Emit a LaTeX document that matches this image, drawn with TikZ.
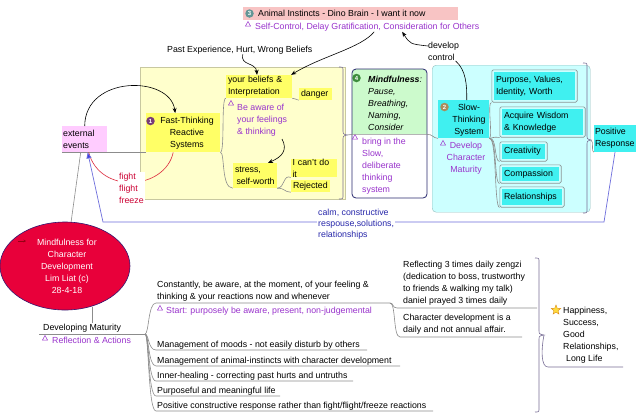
\documentclass[tikz,border=0pt]{standalone}
\usepackage{fontspec}
\setmainfont{Liberation Sans}
\usetikzlibrary{arrows.meta,shapes.geometric,fit}
\newcommand{\fs}{\fontsize{8.8}{12}\selectfont}
\definecolor{pinkA}{RGB}{248,196,196}
\definecolor{extpink}{RGB}{255,204,255}
\definecolor{ybg}{RGB}{255,255,204}
\definecolor{ybord}{RGB}{200,200,160}
\definecolor{ybright}{RGB}{255,255,102}
\definecolor{cyanbg}{RGB}{204,255,255}
\definecolor{cyanbord}{RGB}{150,190,190}
\definecolor{cyanbright}{RGB}{64,240,240}
\definecolor{mindgreen}{RGB}{204,250,204}
\definecolor{mindnavy}{RGB}{40,40,110}
\definecolor{notepurple}{RGB}{153,51,204}
\definecolor{fightred}{RGB}{204,0,51}
\definecolor{arcred}{RGB}{220,40,60}
\definecolor{blueline}{RGB}{110,110,220}
\definecolor{bluetip}{RGB}{60,60,230}
\definecolor{bluetxt}{RGB}{40,40,170}
\definecolor{rootred}{RGB}{232,0,58}
\definecolor{rootbord}{RGB}{50,20,110}
\definecolor{conngray}{RGB}{140,140,140}
\definecolor{framegray}{RGB}{140,150,150}
\definecolor{bracecol}{RGB}{120,110,150}
\definecolor{icon1}{RGB}{120,60,120}
\definecolor{icon2}{RGB}{170,140,90}
\definecolor{icon3}{RGB}{100,150,150}
\definecolor{icon4}{RGB}{60,140,60}
\definecolor{staryellow}{RGB}{255,220,60}
\definecolor{starorange}{RGB}{220,140,20}
\definecolor{darkredicon}{RGB}{150,0,20}
\newcommand{\mytri}[2]{\draw[tri] (#1-2.5,#2+2) -- (#1+2.5,#2+2) -- (#1,#2-2.5) -- cycle;}
\tikzset{
 txt/.style={font=\fs, inner sep=0pt, anchor=west, align=left},
 note/.style={txt, text=notepurple},
 bx/.style={font=\fs, inner xsep=2pt, inner ysep=0pt, align=left},
 ybx/.style={bx, fill=ybright},
 cbx/.style={bx, fill=cyanbright},
 icon/.style={circle, inner sep=0pt, minimum size=8.5pt, text=white, font=\fontsize{6}{6}\selectfont\bfseries},
 conn/.style={draw=conngray, line width=0.6pt},
 tri/.style={draw=notepurple, line width=0.5pt},
 cframe/.style={draw=framegray, rounded corners=1.5pt, inner sep=2pt, line width=0.6pt},
 bracel/.style={draw=bracecol, line width=0.6pt},
 arr/.style={draw=black, line width=0.6pt, -{Stealth[length=5pt,width=4pt]}},
}
\begin{document}
\begin{tikzpicture}[x=1pt,y=-1pt]
\useasboundingbox (0,0) rectangle (640,416);
\fill[white] (0,0) rectangle (640,416);

% ---------- top ----------
\node[fill=pinkA, minimum width=215pt, minimum height=13pt, inner sep=0pt, anchor=north west] (animalbox) at (243,7) {};
\node[icon, fill=icon3] (i3) at (249.5,13.5) {3};
\node[txt] (animal) at (258,13.5) {Animal Instincts - Dino Brain - I want it now};
\mytri{248}{24}
\node[note] (selfc) at (255,27.5) {Self-Control, Delay Gratification, Consideration for Others};
\node[txt] (past) at (167,50) {Past Experience, Hurt, Wrong Beliefs};
\node[txt] (dev) at (428,51.5) {develop\\control};

% ---------- yellow region ----------
\node[fill=ybg, draw=ybord, minimum width=205pt, minimum height=132pt, inner sep=0pt, anchor=north west] (ybgn) at (140,67) {};
\node[fill=extpink, minimum width=45pt, minimum height=26pt, inner sep=0pt, anchor=north west] (ext) at (62,126) {};
\node[txt] (exttxt) at (63,139) {external\\events};
\node[fill=ybright, minimum width=74pt, minimum height=39pt, inner sep=0pt, anchor=north west] (fast) at (146,113) {};
\node[txt, align=center, anchor=center] (fasttxt) at (187,133) {Fast-Thinking\\Reactive\\Systems};
\node[icon, fill=icon1] (i1) at (150.5,121) {1};
\node[ybx, text width=62pt, minimum height=23pt] (bel) at (259,86.5) {your beliefs \&\\Interpretation};
\node[ybx, text width=29pt, minimum height=12pt] (danger) at (315.5,94) {danger};
\node[ybx, text width=40pt, minimum height=25pt] (stress) at (255,175.5) {stress,\\\hspace{1.5pt}self-worth};
\node[ybx, inner xsep=1.5pt, text width=43pt, minimum height=12pt] (cant) at (314,168) {I can't do it};
\node[ybx, text width=35pt, minimum height=12pt] (rej) at (310.5,186) {Rejected};
\mytri{231}{103}
\node[note] (aware) at (237,120.5) {Be aware of\\your feelings\\\& thinking};

\draw[conn] (ext.south west) -- (fast.south west);
\draw[conn] (fast.south east) .. controls (225,152) and (221,98) .. (bel.south west);
\draw[conn] (bel.south east) .. controls (296,98) and (295,100) .. (danger.south west);
\draw[conn] (fast.south east) .. controls (225,152) and (221,188) .. (stress.south west);
\draw[conn] (stress.south east) .. controls (285,188) and (283,174) .. (cant.south west);
\draw[conn] (stress.south east) .. controls (285,188) and (284,192) .. (rej.south west);
\draw[arr] (282,139) .. controls (288,150) and (282,157) .. ([xshift=13pt]stress.north);

% yellow summary brace
\draw[bracel] (339,67) .. controls (343,67) .. (343,71) -- (343,130) .. controls (343,134) .. (347,135) .. controls (343,136) .. (343,140) -- (343,195) .. controls (343,199) .. (339,199);
\coordinate (ytip) at (347,135);

% ---------- mindfulness ----------
\begin{scope}
\clip[rounded corners=4pt] (352,69) rectangle (427,198);
\fill[white] (352,69) rectangle (427,198);
\fill[mindgreen] (352,69) rectangle (427,134);
\end{scope}
\draw[draw=mindnavy, rounded corners=4pt, line width=0.8pt] (352,69) rectangle (427,198);
\node[inner sep=0pt, minimum width=75pt, minimum height=65pt, anchor=north west] (mind) at (352,69) {};
\node[icon, fill=icon4] (i4) at (356.5,78) {4};
\node[txt, font=\fs\itshape] (mindtxt) at (368,103) {\textbf{Mindfulness}:\\Pause,\\Breathing,\\Naming,\\Consider};
\mytri{355}{137}
\node[note] (bring) at (362,166.5) {bring in the\\Slow,\\deliberate\\thinking\\system};

% ---------- cyan region ----------
\node[fill=cyanbg, draw=cyanbord, rounded corners=4pt, minimum width=158pt, minimum height=147pt, inner sep=0pt, anchor=north west] (cbg) at (432,65) {};
\node[fill=cyanbright, minimum width=51pt, minimum height=38pt, inner sep=0pt, anchor=north west] (slow) at (438,100) {};
\node[txt, align=center, anchor=center] (slowtxt) at (469,120) {Slow-\\Thinking\\System};
\node[icon, fill=icon2] (i2) at (444.5,107) {2};
\mytri{443}{143}
\node[note, align=center, anchor=center] (devchar) at (466,158.5) {Develop\\Character\\Maturity};

\node[cbx, text width=77pt, minimum height=28pt] (purp) at (534.5,86) {Purpose, Values,\\Identity, Worth};
\node[cframe, fit=(purp)] (purpf) {};
\node[cbx, text width=77pt, minimum height=26pt] (wis) at (542.5,122) {Acquire Wisdom\\\& Knowledge};
\node[cframe, fit=(wis)] (wisf) {};
\node[cbx, text width=39pt, minimum height=15pt] (cre) at (523.5,151.5) {Creativity};
\node[cframe, fit=(cre)] (cref) {};
\node[cbx, text width=53pt, minimum height=14pt] (com) at (530.5,174) {Compassion};
\node[cframe, fit=(com)] (comf) {};
\node[cbx, text width=56pt, minimum height=16pt] (rel) at (532,197) {Relationships};
\node[cframe, fit=(rel)] (relf) {};

\draw[conn] (slow.south east) .. controls (493,137) and (487,102) .. (purpf.south west);
\draw[conn] (slow.south east) .. controls (496,137) and (494,137) .. (wisf.south west);
\draw[conn] (slow.south east) .. controls (497,137) and (494,161) .. (cref.south west);
\draw[conn] (slow.south east) .. controls (497,137) and (494,183) .. (comf.south west);
\draw[conn] (slow.south east) .. controls (497,137) and (494,207) .. (relf.south west);

\draw[conn] (ytip) -- (mind.south west) -- (mind.south east) .. controls (432,134) and (433,138) .. (slow.south west);

% cyan summary brace
\draw[bracel] (583,63) .. controls (587,63) .. (587,67) -- (587,135) .. controls (587,139) .. (591,140) .. controls (587,141) .. (587,145) -- (587,209) .. controls (587,213) .. (583,213);
\coordinate (ctip) at (591,140);
\node[cbx, inner xsep=1pt, text width=40pt, minimum height=27pt] (pos) at (615,138.5) {Positive\\Response};
\draw[conn] (ctip) .. controls (594,141) and (591,152) .. (pos.south west);

% ---------- top arrows ----------
\draw[arr] ([xshift=3pt]past.south) .. controls (240,66) and (256,62) .. ([xshift=-2pt]bel.north);
\draw[arr] ([xshift=7pt]selfc.south) .. controls (361,48) and (322,56) .. ([xshift=-1pt]bel.north east);
\draw[arr] ([yshift=5.5pt]dev.west) .. controls (410,44) .. ([xshift=35pt]selfc.south);
\draw[line width=0.6pt] ([xshift=12pt]dev.south) .. controls (466,70) and (467,85) .. ([xshift=3pt]slow.north);

% ---------- external event loops ----------
\draw[arr] (ext.north) .. controls (85,75) and (170,75) .. ([xshift=-8pt]fast.north);
\draw[draw=arcred, line width=0.6pt] ([xshift=-10pt]fast.south) .. controls (165,190) and (100,195) .. ([xshift=4pt]ext.south);
\node[txt, text=fightred, fill=white, inner sep=1pt] (fff) at (118,188) {fight\\flight\\freeze};

\coordinate (b1) at (604,222);
\coordinate (b2) at (103,222);
\draw[draw=blueline, line width=0.7pt, -{Triangle[length=6pt,width=5pt,fill=bluetip]}] (pos.south) -- (b1) -- (b2) -- ([xshift=3pt]ext.south);
\node[txt, font=\fontsize{8.8}{11}\selectfont, text=bluetxt, fill=white, inner sep=1pt] (calm) at (317,224) {calm, constructive\\respouse,solutions,\\relationships};

% ---------- root ----------
\node[ellipse, fill=rootred, draw=rootbord, line width=0.6pt, minimum width=130pt, minimum height=88pt, inner sep=0pt] (root) at (65,266) {};
\draw[conn] ([xshift=-4pt]ext.south) -- (root);
\node[txt, align=center, anchor=center, text=white] (roottxt) at (67,266) {Mindfulness for\\Character\\Development\\Lim Liat (c)\\28-4-18};
\draw[draw=darkredicon, line width=0.6pt, -{Stealth[length=2.5pt,width=2.5pt]}] (18,241) -- (26,241);

% ---------- developing maturity ----------
\node[txt] (dm) at (43,328) {Developing Maturity};
\coordinate (rootbot) at (92,307);
\draw[conn] (rootbot) -- (92,323);
\coordinate (dml) at (39,334);
\coordinate (j) at (145,334);
\draw[conn] (dml) -- (j);
\mytri{45}{338}
\node[note] (refact) at (52,340.5) {Reflection \& Actions};

\node[txt] (const) at (157,291) {Constantly, be aware, at the moment, of your feeling \&\\thinking \& your reactions now and whenever};
\mytri{160}{308}
\node[note] (start) at (166,311) {Start: purposely be aware, present, non-judgemental};
\coordinate (cj) at (390,303);
\draw[conn] (j) .. controls (149,334) and (148,303) .. (156,303) -- (cj);

\node[txt] (moods) at (157,345) {Management of moods - not easily disturb by others};
\node[txt] (anim) at (157,361) {Management of animal-instincts with character development};
\node[txt] (inner) at (157,376) {Inner-healing - correcting past hurts and untruths};
\node[txt] (purpl) at (157,391) {Purposeful and meaningful life};
\node[txt] (posc) at (157,406) {Positive constructive response rather than fight/flight/freeze reactions};
\draw[conn] (j) .. controls (149,334) and (148,350) .. (156,350) -- (367,350);
\draw[conn] (j) .. controls (149,334) and (148,366) .. (156,366) -- (400,366);
\draw[conn] (j) .. controls (149,334) and (148,381) .. (156,381) -- (353,381);
\draw[conn] (j) .. controls (149,334) and (148,396) .. (156,396) -- (280,396);
\draw[conn] (j) .. controls (149,334) and (148,411) .. (156,411) -- (433,411);

\node[txt] (refl) at (403,283.5) {Reflecting 3 times daily zengzi\\(dedication to boss, trustworthy\\to friends \& walking my talk)\\daniel prayed 3 times daily};
\node[txt] (chardev) at (403,324) {Character development is a\\daily and not annual affair.};
\draw[conn] (cj) .. controls (394,303) and (392,308) .. (397,308) -- (537,308);
\draw[conn] (cj) .. controls (396,303) and (393,337) .. (400,337) -- (522,337);

% bottom summary brace
\draw[bracel] (535,258) .. controls (539,258) .. (539,262) -- (539,330) .. controls (539,334) .. (544,335) .. controls (539,336) .. (539,340) -- (539,408) .. controls (539,412) .. (535,412);
\coordinate (btip) at (544,335);
\node[star, star points=5, star point ratio=2.3, fill=staryellow, draw=starorange, line width=0.4pt, minimum size=10pt, inner sep=0pt] (star) at (556,310) {};
\node[txt] (happy) at (563,335) {Happiness,\\Success,\\Good\\Relationships,\\\hspace{3pt}Long Life};
\draw[bracel] (btip) .. controls (541,350) and (541,367) .. (548,367) -- (623,367);
\end{tikzpicture}
\end{document}
